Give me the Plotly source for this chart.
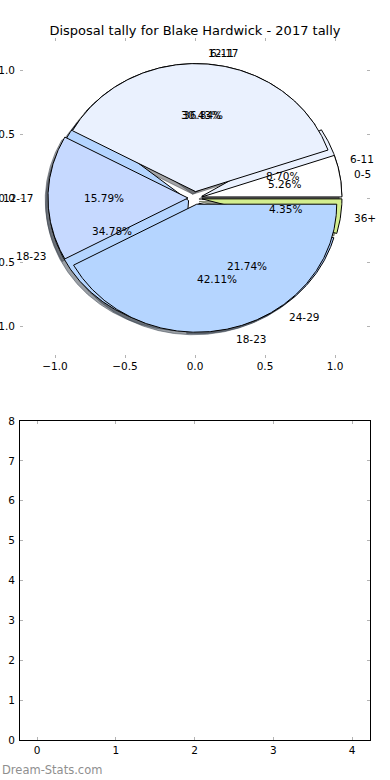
import numpy as np
import plotly.graph_objects as go

# ---- data ----
title_text = "Disposal tally for Blake Hardwick - 2017 tally"
# first pie drawn (underneath)
pie_b_labels = ["6-11", "12-17", "18-23", "24-29", "36+"]
pie_b_values = [2, 7, 8, 5, 1]
# second pie drawn (on top)
pie_a_labels = ["0-5", "6-11", "12-17", "18-23"]
pie_a_values = [1, 7, 3, 8]
bucket_colors = {
    "0-5": "#ffffff",
    "6-11": "#eaf1fe",
    "12-17": "#c6d9ff",
    "18-23": "#b5d5ff",
    "24-29": "#a5c8ff",
    "36+": "#d3ee8f",
}
explode = 0.05
label_distance = 1.085
pct_distance = 0.6
bottom_xticks = [0, 1, 2, 3, 4]
bottom_yticks = [0, 1, 2, 3, 4, 5, 6, 7, 8]
pie_ticks = [-1.0, -0.5, 0.0, 0.5, 1.0]

W, H = 390, 780
ML, MR = 20, 20
FONT = "DejaVu Sans"

fig = go.Figure()


def hex_rgb(h):
    h = h.lstrip("#")
    return tuple(int(h[i:i + 2], 16) for i in (0, 2, 4))


def wedges(labels, values):
    total = float(sum(values))
    out = []
    start = 0.0
    for lab, v in zip(labels, values):
        span = 360.0 * v / total
        t1, t2 = start, start + span
        m = np.deg2rad((t1 + t2) / 2)
        cx, cy = explode * np.cos(m), explode * np.sin(m)
        th = np.deg2rad(np.linspace(t1, t2, max(int(span * 2), 8)))
        xs = np.concatenate([[cx], cx + np.cos(th), [cx]])
        ys = np.concatenate([[cy], cy + np.sin(th), [cy]])
        out.append(dict(label=lab, pct=100.0 * v / total, xs=xs, ys=ys,
                        cx=cx, cy=cy, m=m))
        start = t2
    return out


pies = [wedges(pie_b_labels, pie_b_values), wedges(pie_a_labels, pie_a_values)]

# shadows (below all wedges)
for pie in pies:
    for w in pie:
        r, g, b = hex_rgb(bucket_colors[w["label"]])
        c = "rgba(%d,%d,%d,0.5)" % (r * 0.3, g * 0.3, b * 0.3)
        fig.add_trace(go.Scatter(x=w["xs"] - 0.02, y=w["ys"] - 0.02, mode="lines",
                                 fill="toself", fillcolor=c,
                                 line=dict(color=c, width=1),
                                 hoverinfo="skip", showlegend=False,
                                 xaxis="x", yaxis="y"))
# wedges
for pie in pies:
    for w in pie:
        fig.add_trace(go.Scatter(x=w["xs"], y=w["ys"], mode="lines",
                                 fill="toself",
                                 fillcolor=bucket_colors[w["label"]],
                                 line=dict(color="black", width=1),
                                 name=w["label"], showlegend=False,
                                 xaxis="x", yaxis="y"))

annos = []
for pie in pies:
    for w in pie:
        xt = w["cx"] + label_distance * np.cos(w["m"])
        yt = w["cy"] + label_distance * np.sin(w["m"])
        annos.append(dict(x=xt, y=yt, xref="x", yref="y", text=w["label"],
                          showarrow=False, xanchor="left" if xt > 0 else "right",
                          yanchor="middle",
                          font=dict(family=FONT, size=10.5, color="black")))
        xp = w["cx"] + pct_distance * np.cos(w["m"])
        yp = w["cy"] + pct_distance * np.sin(w["m"])
        annos.append(dict(x=xp, y=yp, xref="x", yref="y",
                          text="%.2f%%" % w["pct"], showarrow=False,
                          xanchor="center", yanchor="middle",
                          font=dict(family=FONT, size=10.5, color="black")))

annos.append(dict(x=-ML / (W - ML - MR), y=1 - 770 / H, xref="paper", yref="paper",
                  xanchor="left", yanchor="middle", showarrow=False,
                  text="Dream-Stats.com",
                  font=dict(family=FONT, size=11.5, color="#8f8f8f")))

# empty bottom axes
fig.add_trace(go.Scatter(x=[], y=[], xaxis="x2", yaxis="y2", showlegend=False))

tick_common = dict(ticks="inside", ticklen=3, tickwidth=1, tickcolor="#b3b3b3",
                   showgrid=False, zeroline=False, automargin=False,
                   tickfont=dict(family=FONT, size=10.5, color="black"))

fig.update_layout(
    width=W, height=H,
    margin=dict(l=ML, r=MR, t=0, b=0, pad=0, autoexpand=False),
    paper_bgcolor="white", plot_bgcolor="rgba(0,0,0,0)",
    showlegend=False,
    title=dict(text=title_text, x=0.5, xanchor="center", y=1 - 30 / H,
               yanchor="middle", automargin=False,
               font=dict(family=FONT, size=13, color="black")),
    xaxis=dict(domain=[0, 1], range=[-1.25, 1.25], tickvals=pie_ticks,
               tickformat=".1f", showline=False, mirror="ticks",
               anchor="y", **tick_common),
    yaxis=dict(domain=[1 - 358 / H, 1 - 38 / H], range=[-1.25, 1.25],
               tickvals=pie_ticks, tickformat=".1f", showline=False,
               mirror="ticks", anchor="x", ticklabelstandoff=4, **tick_common),
    xaxis2=dict(domain=[0, 1], range=[-0.216, 4.228], tickvals=bottom_xticks,
                showline=True, linecolor="black", linewidth=1, mirror="ticks",
                anchor="y2", **tick_common),
    yaxis2=dict(domain=[1 - 740 / H, 1 - 421 / H], range=[0, 8],
                tickvals=bottom_yticks, showline=True, linecolor="black",
                linewidth=1, mirror="ticks", anchor="x2", ticklabelstandoff=2,
                **tick_common),
    annotations=annos,
)

fig.write_html("out.html", config={"displayModeBar": False},
               post_script="document.body.style.margin='0';"
                           "document.body.style.overflow='hidden';")
